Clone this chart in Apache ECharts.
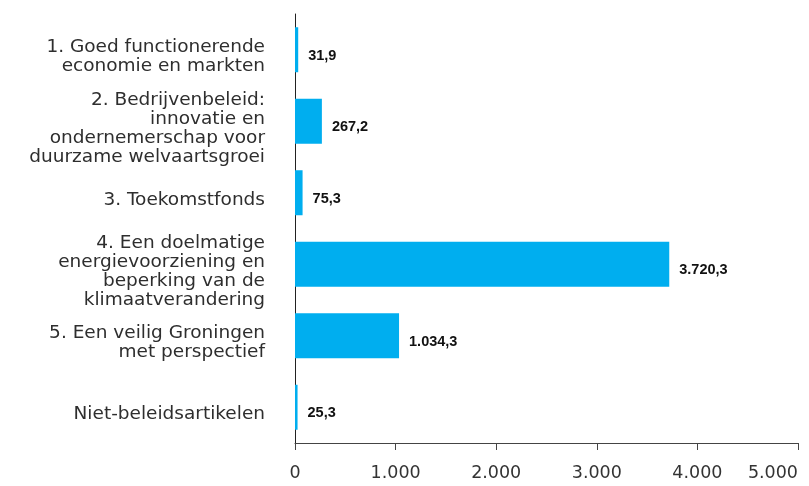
<!DOCTYPE html>
<html>
<head>
<meta charset="utf-8">
<script src="https://cdn.jsdelivr.net/npm/echarts@6/dist/echarts.min.js"></script>
<style>
  html, body { margin: 0; padding: 0; background: #fff; }
  #chart { width: 809px; height: 486px; }
</style>
</head>
<body>
<div id="chart"></div>
<script>
const categories = [
  '1. Goed functionerende\neconomie en markten',
  '2. Bedrijvenbeleid:\ninnovatie en\nondernemerschap voor\nduurzame welvaartsgroei',
  '3. Toekomstfonds',
  '4. Een doelmatige\nenergievoorziening en\nbeperking van de\nklimaatverandering',
  '5. Een veilig Groningen\nmet perspectief',
  'Niet-beleidsartikelen'
]
const values = [31.9, 267.2, 75.3, 3720.3, 1034.3, 25.3]
const xTicks = [0, 1000, 2000, 3000, 4000, 5000]

// Nederlandse notatie: 1.034,3
function nl(v, dec) {
  const parts = v.toFixed(dec).split('.')
  parts[0] = parts[0].replace(/\B(?=(\d{3})+(?!\d))/g, '.')
  return parts.join(',')
}

const chart = echarts.init(document.getElementById('chart'), null, {renderer: 'canvas'})
const font = '"DejaVu Sans", Verdana, sans-serif'

const option = {
  animation: false,
  textStyle: { fontFamily: font },
  grid: { left: 295, right: 11, top: 14, bottom: 43, containLabel: false },
  xAxis: {
    type: 'value',
    min: xTicks[0],
    max: xTicks[xTicks.length - 1],
    interval: 1000,
    axisLine: { show: true, lineStyle: { color: '#444', width: 1 } },
    axisTick: { show: true, length: 7, lineStyle: { color: '#444' } },
    splitLine: { show: false },
    axisLabel: {
      color: '#333',
      fontFamily: font,
      fontSize: 17.5,
      margin: 21,
      alignMaxLabel: 'right',
      formatter: v => nl(v, 0)
    }
  },
  yAxis: {
    type: 'category',
    inverse: true,
    data: categories,
    axisLine: { show: true, lineStyle: { color: '#222', width: 1 } },
    axisTick: { show: false },
    axisLabel: {
      color: '#2e2e2e',
      fontFamily: font,
      fontSize: 18.5,
      lineHeight: 19,
      margin: 30,
      align: 'right',
      // lege regel bovenaan schuift het blok iets omlaag
      formatter: v => '{s| }\n' + v,
      rich: { s: { fontSize: 1, lineHeight: 14 } }
    }
  },
  series: [
    {
      type: 'bar',
      data: values,
      barWidth: 45,
      itemStyle: { color: '#00AEEF' },
      label: {
        show: true,
        position: 'right',
        distance: 10,
        offset: [0, 6],
        color: '#111',
        fontFamily: '"Liberation Sans", Arial, sans-serif',
        fontSize: 14.5,
        fontWeight: 'bold',
        formatter: p => nl(p.value, 1)
      }
    }
  ]
}
chart.setOption(option)
</script>
</body>
</html>
